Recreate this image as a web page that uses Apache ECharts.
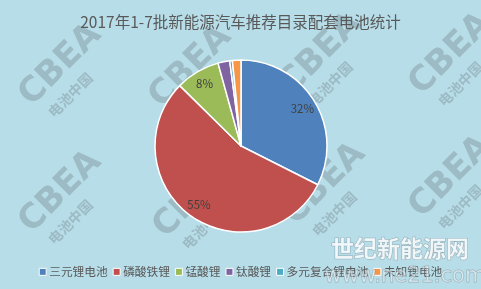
<!DOCTYPE html>
<html>
<head>
<meta charset="utf-8">
<script src="https://cdn.jsdelivr.net/npm/echarts@6/dist/echarts.min.js"></script>
<style>
html,body{margin:0;padding:0;background:#b7dde8;}
#c{width:481px;height:289px;}
</style>
</head>
<body>
<div id="c"></div>
<script>
var titleText = '2017年1-7批新能源汽车推荐目录配套电池统计';
var categories = ['三元锂电池', '磷酸铁锂', '锰酸锂', '钛酸锂', '多元复合锂电池', '未知锂电池'];
var values = [32.4, 54.9, 8.3, 2.2, 0.5, 1.6];
var colors = ['#4f81bd', '#c0504d', '#9bbb59', '#8064a2', '#4bacc6', '#f79646'];

var FONT = '"Noto Sans CJK SC", "Noto Sans", sans-serif';
var data = categories.map(function (n, i) { return { name: n, value: values[i] }; });

// watermark tiles
var wmCenters = [[71, 73], [201, 75], [331, 62], [461, 62], [71, 200], [205, 205], [335, 192], [461, 185]];
var WM = 'rgba(135,158,165,0.55)';
var graphics = [];
wmCenters.forEach(function (c) {
  graphics.push({
    type: 'group', x: c[0], y: c[1], rotation: Math.PI / 4, z: 100, silent: true,
    children: [
      { type: 'text', x: -52, y: -13, style: { text: 'CBEA', font: 'bold 34px "DejaVu Sans", sans-serif', fill: WM, textAlign: 'left', textVerticalAlign: 'middle' } },
      { type: 'text', x: -44, y: 15, style: { text: '电池中国', font: 'bold 14px "Noto Sans CJK SC", sans-serif', fill: WM, textAlign: 'left', textVerticalAlign: 'middle' } }
    ]
  });
});
graphics.push({
  type: 'text', x: 400, y: 248, z: 101, silent: true,
  style: { text: '世纪新能源网', font: 'bold 23px "Noto Sans CJK SC", sans-serif', fill: 'rgba(255,255,255,0.8)', stroke: 'rgba(120,140,150,0.6)', lineWidth: 1, textAlign: 'center', textVerticalAlign: 'middle' }
});
graphics.push({
  type: 'text', x: 405, y: 277, z: 101, silent: true,
  style: { text: 'www.ne21.com', font: '21px "DejaVu Sans", sans-serif', fill: 'rgba(255,255,255,0.45)', stroke: 'rgba(120,140,150,0.55)', lineWidth: 1, textAlign: 'center', textVerticalAlign: 'middle' }
});

var chart = echarts.init(document.getElementById('c'), null, { renderer: 'canvas' });
chart.setOption({
  backgroundColor: '#b7dde8',
  animation: false,
  color: colors,
  title: {
    text: titleText, left: 'center', top: 9,
    textStyle: { fontFamily: FONT, fontSize: 15.5, fontWeight: 'normal', color: '#595959' }
  },
  legend: {
    data: categories, left: 'center', top: 261, icon: 'rect',
    itemWidth: 7, itemHeight: 7, itemGap: 5,
    itemStyle: { borderColor: '#ffffff', borderWidth: 1 },
    textStyle: { fontFamily: FONT, fontSize: 11.7, color: '#595959', padding: [0, 0, 0, -2] }
  },
  graphic: graphics,
  series: [
    {
      type: 'pie', center: [241, 146], radius: [0, 86], startAngle: 90, clockwise: true,
      data: data, label: { show: false }, labelLine: { show: false },
      itemStyle: { borderColor: '#ffffff', borderWidth: 1.5 }
    },
    {
      type: 'pie', center: [241, 146], radius: [52, 86], startAngle: 90, clockwise: true,
      data: data, silent: true, legendHoverLink: false,
      itemStyle: { color: 'rgba(0,0,0,0)', borderWidth: 0 },
      labelLine: { show: false },
      label: {
        show: true, position: 'inside', fontFamily: FONT, fontSize: 11.5, color: '#404040',
        formatter: function (p) { return p.percent >= 5 ? Math.round(p.percent) + '%' : ''; }
      }
    }
  ]
});
</script>
</body>
</html>
